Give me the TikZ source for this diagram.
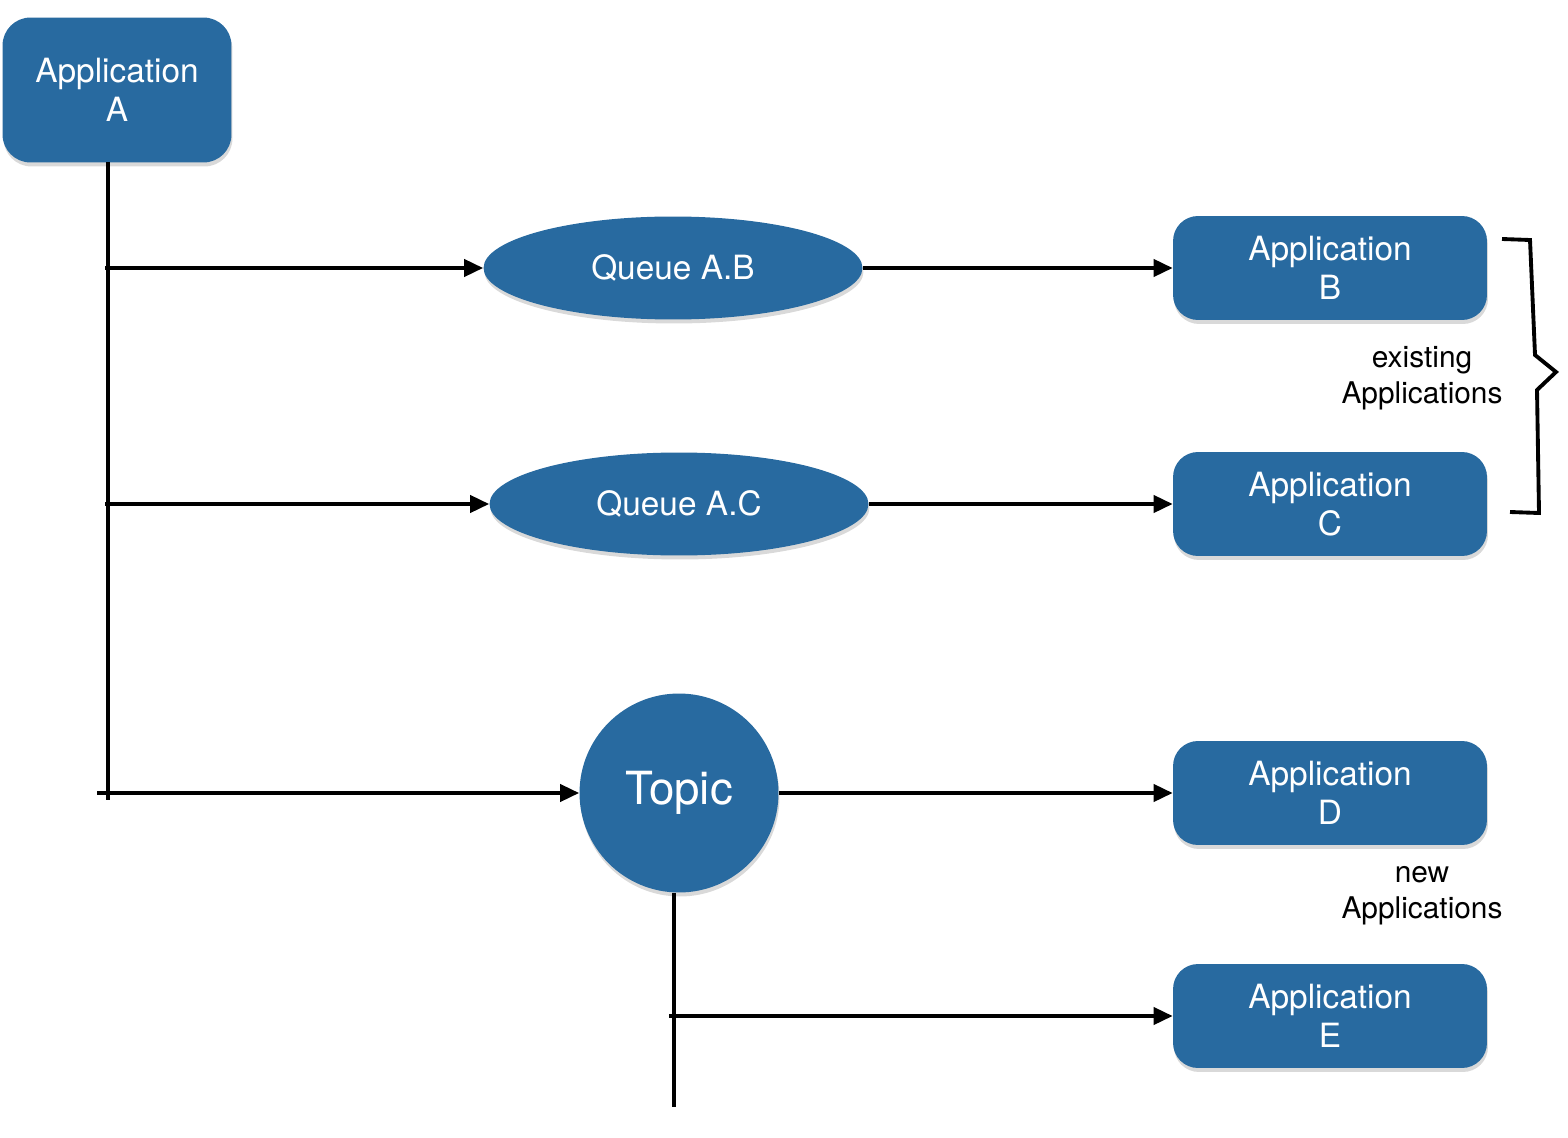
\documentclass[tikz,border=0pt]{standalone}
\usepackage{fontspec}
\setmainfont{TeX Gyre Heros}
\usepackage{tikz}
\usetikzlibrary{shapes.geometric, arrows.meta, positioning, shadows}
\definecolor{myblue}{RGB}{40,106,160}
\definecolor{mydark}{RGB}{0,0,0}
\tikzset{
  appbox/.style={rectangle, fill=myblue, text=white,
    minimum width=6.28cm, minimum height=2.08cm, align=center,
    font=\fontsize{19}{22.5}\selectfont, rounded corners=0.5cm,
    drop shadow={shadow xshift=0.02cm, shadow yshift=-0.08cm, opacity=0.3}},
  queue/.style={ellipse, fill=myblue, text=white, inner sep=0pt,
    minimum width=7.58cm, minimum height=2.06cm,
    font=\fontsize{19}{22.5}\selectfont,
    drop shadow={shadow xshift=0.02cm, shadow yshift=-0.08cm, opacity=0.3}},
  topic/.style={circle, fill=myblue, text=white, inner sep=0pt,
    minimum size=3.98cm, font=\fontsize{26}{30}\selectfont,
    drop shadow={shadow xshift=0.02cm, shadow yshift=-0.08cm, opacity=0.3}},
  note/.style={align=center, text=mydark, font=\fontsize{17}{20.5}\selectfont},
  arrow/.style={-{Triangle[length=0.38cm, width=0.34cm]}, line width=2.2pt, color=mydark},
  line/.style={line width=2.2pt, color=mydark}
}

\begin{document}
\begin{tikzpicture}[x=0.02cm, y=-0.02cm]
  \useasboundingbox (0,0) rectangle (1568,1138);
  % Sender
  \node[appbox, minimum width=4.58cm, minimum height=2.9cm, rounded corners=0.56cm] (appA) at (117,90) {Application\\A};
  % Queues and topic
  \node[queue] (qAB) at (673,268) {Queue A.B};
  \node[queue] (qAC) at (679,504) {Queue A.C};
  \node[topic] (topic) at (679,793) {Topic};
  % Receivers
  \node[appbox] (appB) at (1330,268) {Application\\B};
  \node[appbox] (appC) at (1330,504) {Application\\C};
  \node[appbox] (appD) at (1330,793) {Application\\D};
  \node[appbox] (appE) at (1330,1016) {Application\\E};
  % Notes
  \node[note] (existing) at (1422,378) {existing\\Applications};
  \node[note] (new) at (1422,896) {new\\Applications};
  % Bus from A
  \coordinate (busTop) at (108,162);
  \coordinate (busEnd) at (108,800);
  \draw[line] (busTop) -- (busEnd);
  \coordinate (tapAB) at (105,268);
  \coordinate (tapAC) at (105,504);
  \coordinate (tapT) at (97,793);
  \draw[arrow] (tapAB) -- (qAB.west);
  \draw[arrow] (tapAC) -- (qAC.west);
  \draw[arrow] (tapT) -- (topic.west);
  % Queues to receivers
  \draw[arrow] (qAB.east) -- (appB.west);
  \draw[arrow] (qAC.east) -- (appC.west);
  \draw[arrow] (topic.east) -- (appD.west);
  % Bus from topic
  \coordinate (tbusEnd) at (674,1107);
  \draw[line] (topic.south -| tbusEnd) -- (tbusEnd);
  \coordinate (tapE) at (669,1016);
  \draw[arrow] (tapE) -- (appE.west);
  % Brace
  \draw[line, line join=miter] (1502,239) -- (1530,240) -- (1535,355) -- (1556,372)
    -- (1537,390) -- (1539,513) -- (1510,512);
\end{tikzpicture}
\end{document}
